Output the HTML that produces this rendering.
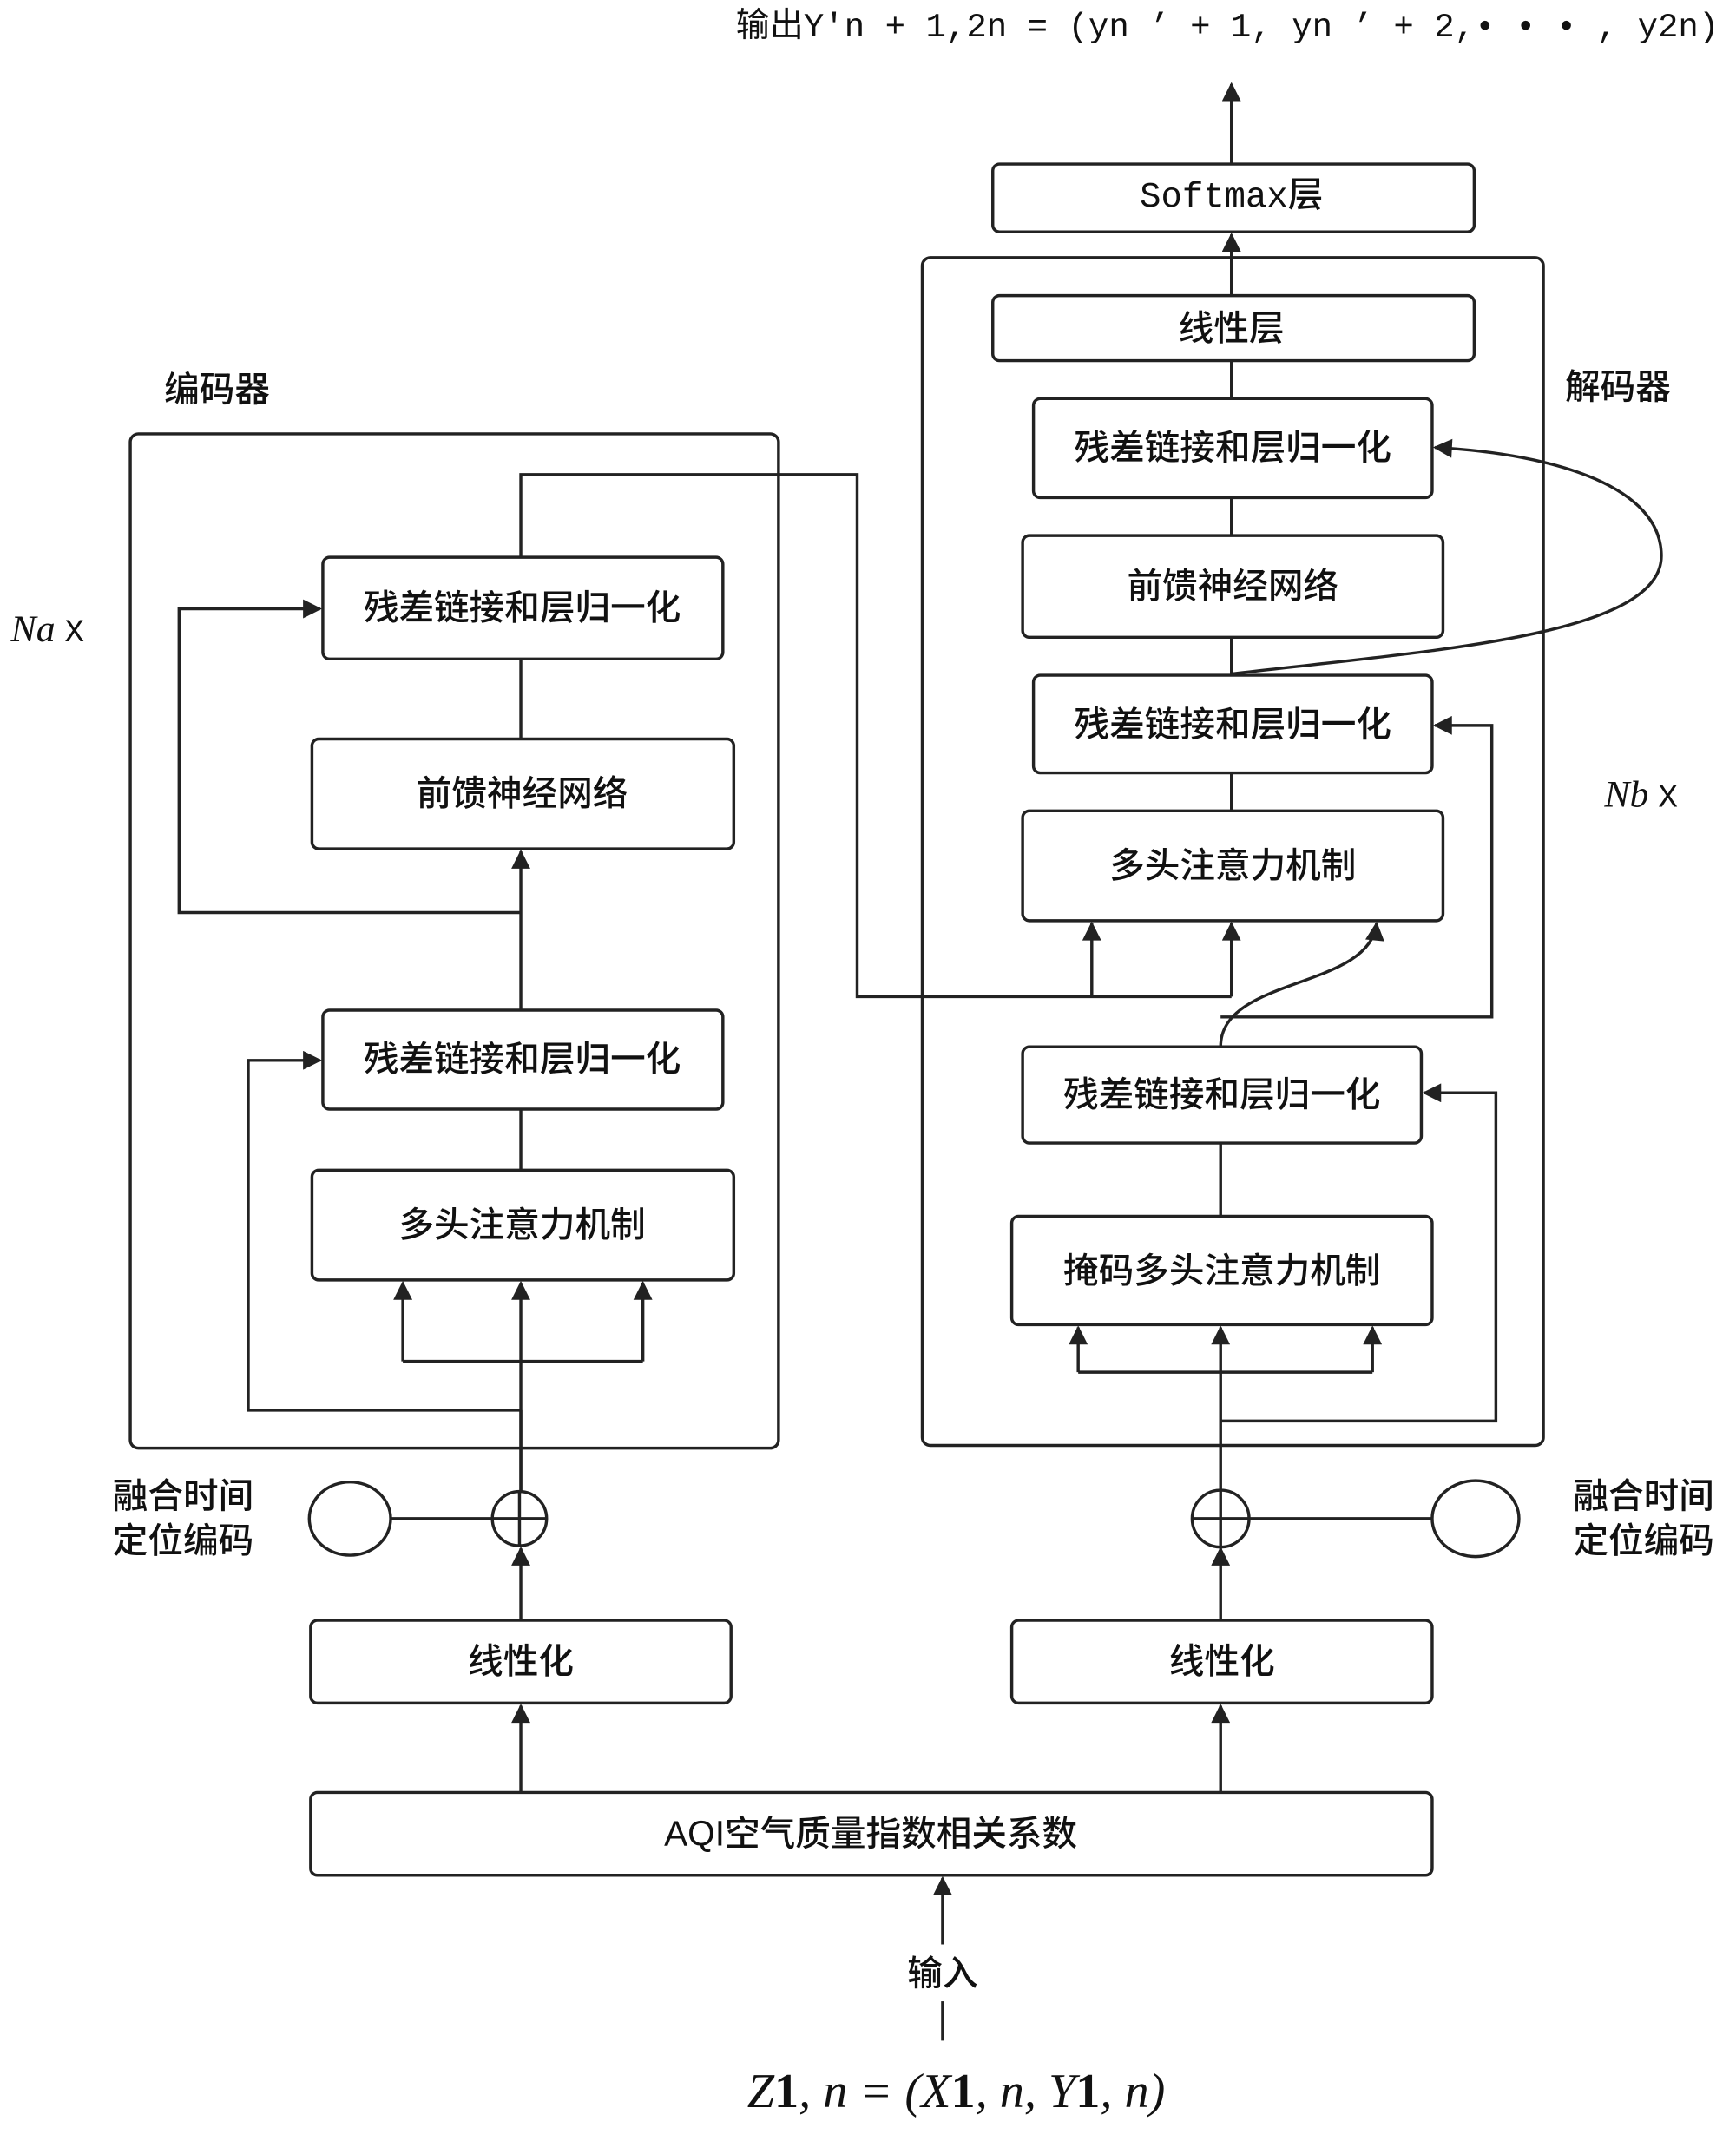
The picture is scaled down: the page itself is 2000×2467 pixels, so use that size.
<!DOCTYPE html>
<html><head><meta charset="utf-8"><style>
html,body{margin:0;padding:0;background:#fff;}
svg{display:block;}
text{font-family:"Liberation Sans","Noto Sans CJK SC",sans-serif;fill:#111;}
.b{fill:#fff;stroke:#222;stroke-width:2.2;}
.l{fill:none;stroke:#222;stroke-width:2.2;}
.t{font-size:26px;text-anchor:middle;dominant-baseline:central;font-weight:500;}
</style></head><body>
<svg width="2000" height="2467" viewBox="0 0 1280 1579" xmlns="http://www.w3.org/2000/svg">
<defs>
<marker id="A" viewBox="0 0 10 10" refX="9" refY="5" markerWidth="22" markerHeight="14" markerUnits="userSpaceOnUse" orient="auto"><path d="M0,0 L10,5 L0,10 z" fill="#222"/></marker></defs>

<text x="905" y="27" style="font-size:25px;text-anchor:middle;font-family:'Liberation Mono','Noto Sans CJK SC',monospace">输出Y'n + 1,2n = (yn ’ + 1, yn ’ + 2,• • • , y2n)</text>

<rect class="b" x="96" y="320" width="478" height="748" rx="6"/>
<rect class="b" x="680" y="190" width="458" height="876" rx="6"/>

<path class="l" d="M384 1120 V1040 M384 1040 H183 V782 H236" marker-end="url(#A)"/>
<path class="l" d="M384 1120 V946" marker-end="url(#A)"/>
<path class="l" d="M297 1004 H474"/>
<path class="l" d="M297 1004 V946" marker-end="url(#A)"/>
<path class="l" d="M474 1004 V946" marker-end="url(#A)"/>
<path class="l" d="M384 818 V863"/>
<path class="l" d="M384 745 V628" marker-end="url(#A)"/>
<path class="l" d="M384 673 H132 V449 H236" marker-end="url(#A)"/>
<path class="l" d="M384 486 V545"/>
<path class="l" d="M384 411 V350 H632 V735 H908"/>
<path class="l" d="M805 735 V681" marker-end="url(#A)"/>
<path class="l" d="M908 735 V681" marker-end="url(#A)"/>

<path class="l" d="M900 1120 V979" marker-end="url(#A)"/>
<path class="l" d="M795 1012 H1012"/>
<path class="l" d="M795 1012 V979" marker-end="url(#A)"/>
<path class="l" d="M1012 1012 V979" marker-end="url(#A)"/>
<path class="l" d="M900 1048 H1103 V806 H1050" marker-end="url(#A)"/>
<path class="l" d="M900 843 V897"/>
<path class="l" d="M900 772 C900 720 1010 730 1015 681" marker-end="url(#A)"/>
<path class="l" d="M900 750 H1100 V535 H1058" marker-end="url(#A)"/>
<path class="l" d="M908 570 V598"/>
<path class="l" d="M908 470 V498"/>
<path class="l" d="M908 367 V395"/>
<path class="l" d="M908 497 C1050 480 1225 470 1225 410 C1225 360 1150 335 1058 330" marker-end="url(#A)"/>
<path class="l" d="M908 294 V266"/>
<path class="l" d="M908 218 V173" marker-end="url(#A)"/>
<path class="l" d="M908 121 V62" marker-end="url(#A)"/>

<path class="l" d="M384 1195 V1142" marker-end="url(#A)"/>
<path class="l" d="M900 1195 V1142" marker-end="url(#A)"/>
<path class="l" d="M384 1322 V1258" marker-end="url(#A)"/>
<path class="l" d="M900 1322 V1258" marker-end="url(#A)"/>
<path class="l" d="M695 1434 V1385" marker-end="url(#A)"/>
<path class="l" d="M695 1476 V1505"/>
<path class="l" d="M288 1120 H363 M921 1120 H1056"/>

<rect class="b" x="732" y="121" width="355" height="50" rx="5"/><text class="t" x="908" y="146" style="font-family:'Liberation Mono','Noto Sans CJK SC',monospace">Softmax层</text>
<rect class="b" x="732" y="218" width="355" height="48" rx="5"/><text class="t" x="908" y="242">线性层</text>
<rect class="b" x="762" y="294" width="294" height="73" rx="5"/><text class="t" x="909" y="330">残差链接和层归一化</text>
<rect class="b" x="754" y="395" width="310" height="75" rx="5"/><text class="t" x="909" y="432">前馈神经网络</text>
<rect class="b" x="762" y="498" width="294" height="72" rx="5"/><text class="t" x="909" y="534">残差链接和层归一化</text>
<rect class="b" x="754" y="598" width="310" height="81" rx="5"/><text class="t" x="909" y="638">多头注意力机制</text>
<rect class="b" x="754" y="772" width="294" height="71" rx="5"/><text class="t" x="901" y="807">残差链接和层归一化</text>
<rect class="b" x="746" y="897" width="310" height="80" rx="5"/><text class="t" x="901" y="937">掩码多头注意力机制</text>

<rect class="b" x="238" y="411" width="295" height="75" rx="5"/><text class="t" x="385" y="448">残差链接和层归一化</text>
<rect class="b" x="230" y="545" width="311" height="81" rx="5"/><text class="t" x="385" y="585">前馈神经网络</text>
<rect class="b" x="238" y="745" width="295" height="73" rx="5"/><text class="t" x="385" y="781">残差链接和层归一化</text>
<rect class="b" x="230" y="863" width="311" height="81" rx="5"/><text class="t" x="385" y="903">多头注意力机制</text>

<rect class="b" x="229" y="1195" width="310" height="61" rx="5"/><text class="t" x="384" y="1225">线性化</text>
<rect class="b" x="746" y="1195" width="310" height="61" rx="5"/><text class="t" x="901" y="1225">线性化</text>
<rect class="b" x="229" y="1322" width="827" height="61" rx="5"/><text class="t" x="642" y="1352">AQI空气质量指数相关系数</text>

<ellipse class="b" cx="258" cy="1120" rx="30" ry="27"/>
<circle class="b" cx="383" cy="1120" r="20"/><path class="l" d="M363 1120 H403 M383 1100 V1140"/>
<circle class="b" cx="900" cy="1120" r="21"/><path class="l" d="M879 1120 H921 M900 1099 V1141"/>
<ellipse class="b" cx="1088" cy="1120" rx="32" ry="28"/>

<text class="t" x="160" y="287">编码器</text>
<text class="t" x="1193" y="285">解码器</text>
<text x="8" y="473" style="font-size:28px;font-family:'Liberation Serif',serif;font-style:italic">Na <tspan style="font-style:normal;font-family:'Liberation Mono',monospace;font-size:24px">X</tspan></text>
<text x="1183" y="595" style="font-size:28px;font-family:'Liberation Serif',serif;font-style:italic">Nb <tspan style="font-style:normal;font-family:'Liberation Mono',monospace;font-size:24px">X</tspan></text>
<text class="t" x="135" y="1103">融合时间</text>
<text class="t" x="135" y="1136">定位编码</text>
<text class="t" x="1212" y="1103">融合时间</text>
<text class="t" x="1212" y="1136">定位编码</text>
<text class="t" x="695" y="1455">输入</text>
<text x="705" y="1554" style="font-size:36px;text-anchor:middle;font-family:'Liberation Serif',serif;font-style:italic">Z<tspan font-style="normal" font-weight="bold">1</tspan>, n = (X<tspan font-style="normal" font-weight="bold">1</tspan>, n, Y<tspan font-style="normal" font-weight="bold">1</tspan>, n)</text>
</svg>
</body></html>
